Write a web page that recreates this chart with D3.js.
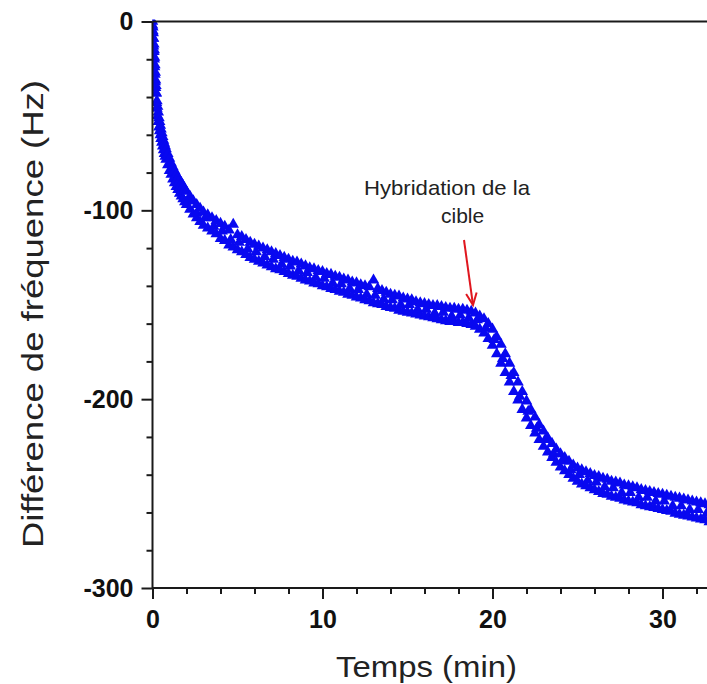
<!DOCTYPE html>
<html><head><meta charset="utf-8">
<script src="https://cdn.jsdelivr.net/npm/d3@7"></script>
<style>
html,body{margin:0;padding:0;background:#fff;}
svg{display:block;font-family:"Liberation Sans",Arial,sans-serif;}
</style></head>
<body><svg id="chart" width="707" height="684"></svg>
<script>
// ---- data ----
const times = [0,0.02,0.04,0.06,0.08,0.1,0.12,0.14,0.16,0.18,0.2,0.23,0.26,0.3,0.34,0.38,0.42,0.46,0.5,0.55,0.6,0.65,0.7,0.75,0.8,0.9,1.0,1.1,1.2,1.3,1.4,1.5,1.6,1.7,1.8,1.9,2.0,2.2,2.4,2.6,2.8,3.0,
3.25,3.5,3.75,4,4.25,4.5,4.75,5,5.25,5.5,5.75,6,6.25,6.5,6.75,7,7.25,7.5,7.75,8,8.25,8.5,8.75,9,9.25,9.5,9.75,10,
10.25,10.5,10.75,11,11.25,11.5,11.75,12,12.25,12.5,12.75,13,13.25,13.5,13.75,14,14.25,14.5,14.75,15,15.25,15.5,15.75,16,
16.25,16.5,16.75,17,17.25,17.5,17.75,18,18.25,18.5,18.75,19,19.25,19.5,19.75,20,20.25,20.5,20.75,21,21.25,21.5,21.75,22,
22.25,22.5,22.75,23,23.25,23.5,23.75,24,24.25,24.5,24.75,25,25.25,25.5,25.75,26,26.25,26.5,26.75,27,27.25,27.5,27.75,28,
28.25,28.5,28.75,29,29.25,29.5,29.75,30,30.25,30.5,30.75,31,31.25,31.5,31.75,32,32.25,32.5,32.75];

const run1 = [0,-3,-6,-9,-12,-15,-19,-23,-27,-31,-34,-38,-42,-45,-48,-51,-53,-55,-57,-59,-61,-63,-64.5,-66,-67.5,-70,-72.5,-75,-77,-79,-81,-82.5,-84,-85.5,-87,-88.5,-90,-92.5,-95,-97,-99,-101,
-102.5,-104,-105.5,-107,-108.5,-110.5,-107.5,-113,-114,-115.5,-117,-118,-119,-120,-121,-122,-123,-124,-125,-126,-127,-127.5,-128.5,-129.5,-130.5,-131,-132,-132.5,
-133.5,-134,-135,-135.5,-136.5,-137,-138,-138.5,-139.5,-140,-140.5,-137,-141.5,-142.5,-143.5,-144.5,-145,-145.5,-146.5,-147,-147.5,-148.5,-149,-149.5,
-150,-150.5,-150.5,-151,-151.5,-152,-152,-152.5,-152.5,-153,-153.5,-154.5,-156,-157.5,-160,-163,-167,-171,-176,-181,-186,-191,-196,-201,
-205.5,-209.5,-213.5,-217,-220.5,-223.5,-226.5,-229,-231,-233,-235,-236.5,-237.5,-238.5,-239.5,-240.5,-241,-242,-242.5,-243.5,-244,-244.5,-245.5,-246,
-246.5,-247,-248,-248.5,-249,-249.5,-250,-250.5,-251,-251.5,-252,-252.5,-253,-253.5,-254,-254.5,-255,-255.5,-256];

const run2 = [-2,-5,-9,-13,-16,-20,-24,-28,-32,-35,-38,-43,-46,-50,-53,-56,-58,-60,-62,-64,-66,-68,-70,-71.5,-73,-76,-79,-81,-83.5,-85.5,-87.5,-89,-91,-92.5,-94,-95.5,-97,-99.5,-102,-104,-106,-108,
-109.5,-111,-112.5,-115,-116,-118.5,-119.5,-121,-122,-123.5,-125,-126,-127,-128,-129,-130,-131,-131.5,-132.5,-133.5,-134.5,-135,-136,-137,-137.5,-138.5,-139,-140,
-140.5,-141.5,-142,-143,-143.5,-144.5,-145,-146,-146.5,-147.5,-148,-149,-149.5,-150,-151,-151.5,-152,-153,-153.5,-154,-154.5,-155,-155.5,-156,
-156.5,-157,-157.5,-158,-158.5,-159,-159,-159.5,-159.5,-160,-160.5,-161.5,-163,-165,-168,-171.5,-176,-181,-186,-191,-196,-200.5,-205.5,-210,
-214,-218,-221.5,-225,-228,-231,-233.5,-236,-238,-240,-242,-243.5,-245,-246,-247,-248,-249,-250,-250.5,-251.5,-252,-252.5,-253.5,-254,
-254.5,-255,-256,-256.5,-257,-257.5,-258,-258.5,-259,-259.5,-260.5,-261,-261.5,-262,-262.5,-263,-263.5,-264,-265];

const times3 = [2.1,2.6,3.1,3.6,4.1,4.6,5.1,5.6,6.1,6.6,7.1,7.6,8.1,8.6,9.1,9.6,10.1,10.6,11.1,11.6,12.1,12.6,13.1,13.6,14.1,14.6,15.1,15.6,16.1,16.6,
17.1,17.6,18.1,18.6,19.1,19.6,20.1,20.6,21.1,21.6,22.1,22.6,23.1,23.6,24.1,24.6,25.1,25.6,26.1,26.6,27.1,27.6,28.1,28.6,29.1,29.6,30.1,30.6,31.1,31.6,32.1,32.6];
const run3 = [-95,-101.5,-104,-108.5,-111,-115.5,-117,-120.5,-122,-124.5,-126,-128.5,-129.5,-132,-133,-135.5,-136,-138.5,-139,-141.5,-142,-144.5,-145,-147,-147.5,-150,-150,-152.5,-152.5,-154.5,
-154,-156,-155.5,-157,-158,-162.5,-168.5,-178.5,-187.5,-198.5,-206.5,-215.5,-221.5,-229,-232.5,-237.5,-240,-243,-244,-246.5,-247,-249.5,-249.5,-252,-252,-254,-254,-256.5,-256.5,-258.5,-258.5,-260.5];

const xTicks = [0, 10, 20, 30];
const yTicks = [0, -100, -200, -300];
const xMinor = [2,4,6,8,12,14,16,18,22,24,26,28,32,34];
const yMinor = [-20,-40,-60,-80,-120,-140,-160,-180,-220,-240,-260,-280];
const xTitle = "Temps (min)";
const yTitle = "Différence de fréquence (Hz)";
const noteLines = ["Hybridation de la", "cible"];

// ---- layout ----
const svg = d3.select("#chart");
const pLeft = 152.5, pTop = 21.5, pBottom = 588;
const x = d3.scaleLinear().domain([0, 35]).range([pLeft, pLeft + 35 * 17]);
const y = d3.scaleLinear().domain([-300, 0]).range([pBottom, pTop]);
const axisColor = "#1a1a1a";

svg.append("defs").append("clipPath").attr("id", "plotclip")
  .append("rect").attr("x", pLeft).attr("y", pTop - 2).attr("width", 707 - pLeft).attr("height", pBottom - pTop + 2);

const plot = svg.append("g").attr("clip-path", "url(#plotclip)");
const tri = d3.symbol().type(d3.symbolTriangle).size(58);
const blue = "#0808f0";
function drawRun(ts, vs) {
  plot.append("g").selectAll("path").data(ts.map((t, i) => [t, vs[i]])).join("path")
    .attr("d", tri).attr("fill", blue)
    .attr("transform", d => `translate(${x(d[0])},${y(d[1])})`);
}
drawRun(times, run2);
drawRun(times3, run3);
drawRun(times, run1);

// top spine
svg.append("line").attr("x1", pLeft).attr("x2", 707).attr("y1", pTop).attr("y2", pTop)
  .attr("stroke", axisColor).attr("stroke-width", 2);

// axes
const fmt = d => String(d);
function styleAxis(g) {
  g.select(".domain").attr("stroke", axisColor).attr("stroke-width", 2);
  g.selectAll(".tick line").attr("stroke", axisColor).attr("stroke-width", 2);
  g.selectAll(".tick text").attr("fill", "#111").attr("font-size", 25).attr("font-weight", "bold")
    .attr("font-family", '"Liberation Sans",Arial,sans-serif');
}
const xAxis = svg.append("g").attr("transform", `translate(0,${pBottom})`)
  .call(d3.axisBottom(x).tickValues(xTicks).tickSize(11).tickPadding(11).tickFormat(fmt));
styleAxis(xAxis);
xAxis.select(".domain").attr("d", `M${pLeft},0H707`);
svg.append("g").attr("transform", `translate(0,${pBottom})`)
  .call(d3.axisBottom(x).tickValues(xMinor).tickSize(6).tickFormat(""))
  .call(g => { g.select(".domain").remove(); g.selectAll(".tick line").attr("stroke", axisColor).attr("stroke-width", 2); });

const yAxis = svg.append("g").attr("transform", `translate(${pLeft},0)`)
  .call(d3.axisLeft(y).tickValues(yTicks).tickSize(11).tickPadding(8).tickFormat(fmt));
styleAxis(yAxis);
yAxis.select(".domain").attr("d", `M0,${pTop}V${pBottom}`);
svg.append("g").attr("transform", `translate(${pLeft},0)`)
  .call(d3.axisLeft(y).tickValues(yMinor).tickSize(6).tickFormat(""))
  .call(g => { g.select(".domain").remove(); g.selectAll(".tick line").attr("stroke", axisColor).attr("stroke-width", 2); });

// titles
svg.append("text").attr("x", 336).attr("y", 677).attr("font-size", 30).attr("fill", "#222")
  .attr("textLength", 181).attr("lengthAdjust", "spacingAndGlyphs").text(xTitle);
svg.append("text").attr("transform", "translate(43,548) rotate(-90)").attr("font-size", 30).attr("fill", "#222")
  .attr("textLength", 468).attr("lengthAdjust", "spacingAndGlyphs").text(yTitle);

// annotation
svg.append("text").attr("x", 364).attr("y", 195).attr("font-size", 21).attr("fill", "#222")
  .attr("textLength", 166).attr("lengthAdjust", "spacingAndGlyphs").text(noteLines[0]);
svg.append("text").attr("x", 441).attr("y", 223).attr("font-size", 21).attr("fill", "#222").text(noteLines[1]);
const red = "#e0161e";
const ax0 = 464, ay0 = 240, ax1 = 473, ay1 = 305;
const ang = Math.atan2(ay1 - ay0, ax1 - ax0);
const hl = 13, ha = 0.42;
svg.append("line").attr("x1", ax0).attr("y1", ay0).attr("x2", ax1).attr("y2", ay1).attr("stroke", red).attr("stroke-width", 2);
svg.append("path").attr("fill", "none").attr("stroke", red).attr("stroke-width", 2).attr("stroke-linejoin", "miter")
  .attr("d", `M${ax1 - hl * Math.cos(ang - ha)},${ay1 - hl * Math.sin(ang - ha)}L${ax1},${ay1}L${ax1 - hl * Math.cos(ang + ha)},${ay1 - hl * Math.sin(ang + ha)}`);
</script></body></html>
